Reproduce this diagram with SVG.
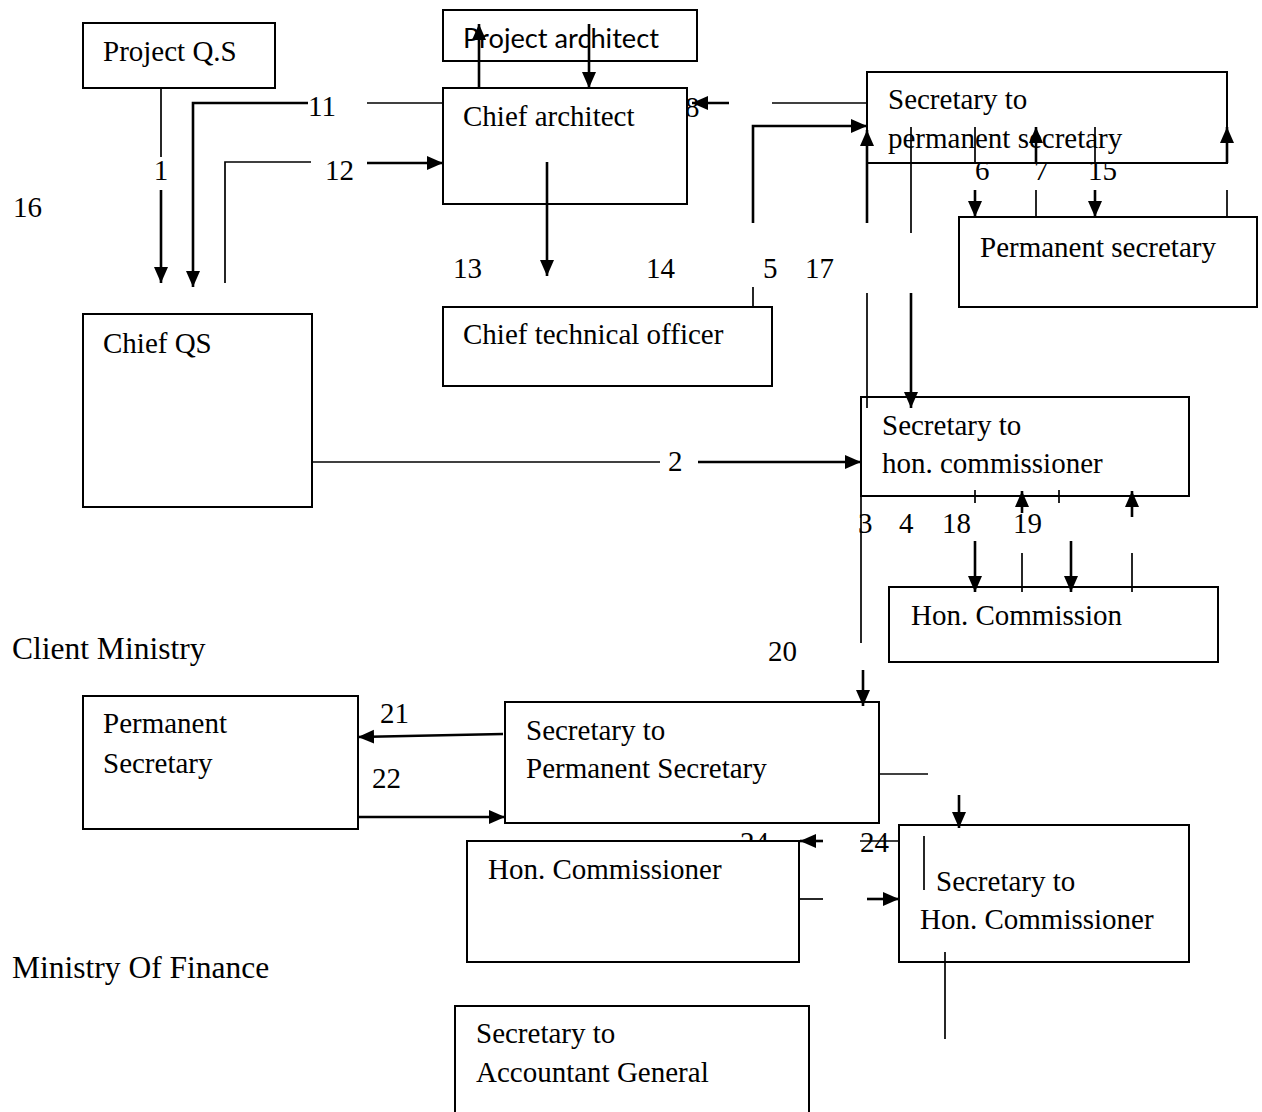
<svg xmlns="http://www.w3.org/2000/svg" width="1262" height="1112" viewBox="0 0 1262 1112">
<style>
.box{fill:#fff;stroke:#000;stroke-width:2}
.t{font-family:"Liberation Serif","Times New Roman",serif;font-size:29px;fill:#000}
.lbl{font-family:"Liberation Serif","Times New Roman",serif;font-size:29px;fill:#000}
.big{font-family:"Liberation Serif","Times New Roman",serif;font-size:31.5px;fill:#000}
.ln{fill:none;stroke:#000;stroke-width:1.7}
.ar{fill:none;stroke:#000;stroke-width:2.6;marker-end:url(#ah)}
</style>
<defs>
<marker id="ah" markerUnits="userSpaceOnUse" markerWidth="18" markerHeight="16" refX="16" refY="7" orient="auto">
<path d="M0,0 L16,7 L0,14 z" fill="#000"/>
</marker>
</defs>
<rect width="1262" height="1112" fill="#fff"/>
<g id="labels">
<text class="lbl" x="161" y="180" text-anchor="middle">1</text>
<text class="lbl" x="308" y="116">11</text>
<text class="lbl" x="325" y="180">12</text>
<text class="lbl" x="13" y="217">16</text>
<text class="lbl" x="685" y="117">8</text>
<text class="lbl" x="453" y="278">13</text>
<text class="lbl" x="646" y="278">14</text>
<text class="lbl" x="763" y="278">5</text>
<text class="lbl" x="805" y="278">17</text>
<text class="lbl" x="975" y="180">6</text>
<text class="lbl" x="1034" y="180">7</text>
<text class="lbl" x="1088" y="180">15</text>
<text class="lbl" x="668" y="471">2</text>
<text class="lbl" x="858" y="533">3</text>
<text class="lbl" x="899" y="533">4</text>
<text class="lbl" x="942" y="533">18</text>
<text class="lbl" x="1013" y="533">19</text>
<text class="lbl" x="768" y="661">20</text>
<text class="lbl" x="380" y="723">21</text>
<text class="lbl" x="372" y="788">22</text>
<text class="lbl" x="740" y="852">24</text>
<text class="lbl" x="860" y="852">24</text>
<text class="big" x="12" y="659">Client Ministry</text>
<text class="big" x="12" y="978">Ministry Of Finance</text>
</g>
<g id="project-qs"><rect class="box" x="83" y="23" width="192" height="65"/><text class="t" x="103" y="61">Project Q.S</text></g>
<g id="project-architect"><rect class="box" x="443" y="10" width="254" height="51"/><text x="463" y="48" font-family="Lato,'Open Sans',sans-serif" font-size="26" textLength="196" lengthAdjust="spacingAndGlyphs">Project architect</text></g>
<g id="chief-architect"><rect class="box" x="443" y="88" width="244" height="116"/><text class="t" x="463" y="126">Chief architect</text></g>
<g id="sec-perm-sec-top"><rect class="box" x="867" y="72" width="360" height="91"/><text class="t" x="888" y="109">Secretary to</text><text class="t" x="888" y="148">permanent secretary</text></g>
<g id="perm-sec-top"><rect class="box" x="959" y="217" width="298" height="90"/><text class="t" x="980" y="257">Permanent secretary</text></g>
<g id="chief-qs"><rect class="box" x="83" y="314" width="229" height="193"/><text class="t" x="103" y="353">Chief QS</text></g>
<g id="chief-technical-officer"><rect class="box" x="443" y="307" width="329" height="79"/><text class="t" x="463" y="344">Chief technical officer</text></g>
<g id="sec-hon-comm-top"><rect class="box" x="861" y="397" width="328" height="99"/><text class="t" x="882" y="435">Secretary to</text><text class="t" x="882" y="473">hon. commissioner</text></g>
<g id="hon-commission"><rect class="box" x="889" y="587" width="329" height="75"/><text class="t" x="911" y="625">Hon. Commission</text></g>
<g id="perm-sec-bottom"><rect class="box" x="83" y="696" width="275" height="133"/><text class="t" x="103" y="733">Permanent</text><text class="t" x="103" y="773">Secretary</text></g>
<g id="sec-perm-sec-bottom"><rect class="box" x="505" y="702" width="374" height="121"/><text class="t" x="526" y="740">Secretary to</text><text class="t" x="526" y="778">Permanent Secretary</text></g>
<g id="hon-commissioner"><rect class="box" x="467" y="841" width="332" height="121"/><text class="t" x="488" y="879">Hon. Commissioner</text></g>
<g id="sec-hon-comm-bottom"><rect class="box" x="899" y="825" width="290" height="137"/><text class="t" x="936" y="891">Secretary to</text><text class="t" x="920" y="929">Hon. Commissioner</text></g>
<g id="sec-accountant-general"><rect class="box" x="455" y="1006" width="354" height="115"/><text class="t" x="476" y="1043">Secretary to</text><text class="t" x="476" y="1082">Accountant General</text></g>
<g id="connectors">
<path class="ln" d="M161,88 V157"/>
<path class="ar" d="M161,190 V283"/>
<path class="ln" d="M443,103 H367"/>
<path class="ar" d="M308,103 H193 V287"/>
<path class="ln" d="M225,283 V162 H311"/>
<path class="ar" d="M367,163 H443"/>
<path class="ar" d="M479,88 V24"/>
<path class="ar" d="M589,24 V88"/>
<path class="ar" d="M547,162 V276"/>
<path class="ar" d="M729,103 H692"/>
<path class="ln" d="M772,103 H867"/>
<path class="ar" d="M753,223 V126 H867"/>
<path class="ln" d="M753,287 V307"/>
<path class="ar" d="M867,223 V130"/>
<path class="ln" d="M867,293 V408"/>
<path class="ln" d="M861,490 V643"/>
<path class="ar" d="M863,670 V706"/>
<path class="ln" d="M911,127 V233"/>
<path class="ar" d="M911,293 V408"/>
<path class="ln" d="M975,127 V163"/>
<path class="ar" d="M975,190 V217"/>
<path class="ln" d="M1036,217 V190"/>
<path class="ar" d="M1036,163 V127"/>
<path class="ln" d="M1095,127 V163"/>
<path class="ar" d="M1095,190 V217"/>
<path class="ln" d="M1227,217 V190"/>
<path class="ar" d="M1227,163 V127"/>
<path class="ln" d="M312,462 H660"/>
<path class="ar" d="M698,462 H861"/>
<path class="ln" d="M975,490 V503"/>
<path class="ln" d="M1059,490 V503"/>
<path class="ar" d="M1022,513 V491"/>
<path class="ln" d="M1022,553 V592"/>
<path class="ar" d="M1132,517 V491"/>
<path class="ln" d="M1132,553 V592"/>
<path class="ar" d="M975,541 V592"/>
<path class="ar" d="M1071,541 V592"/>
<path class="ar" d="M503,734 L358,737"/>
<path class="ar" d="M358,817 H505"/>
<path class="ln" d="M879,774 H928"/>
<path class="ar" d="M823,841 H800"/>
<path class="ln" d="M860,841 H899"/>
<path class="ln" d="M799,899 H823"/>
<path class="ar" d="M867,899 H899"/>
<path class="ar" d="M959,795 V828"/>
<path class="ln" d="M924,836 V890"/>
<path class="ln" d="M945,952 V1039"/>
</g>
</svg>
